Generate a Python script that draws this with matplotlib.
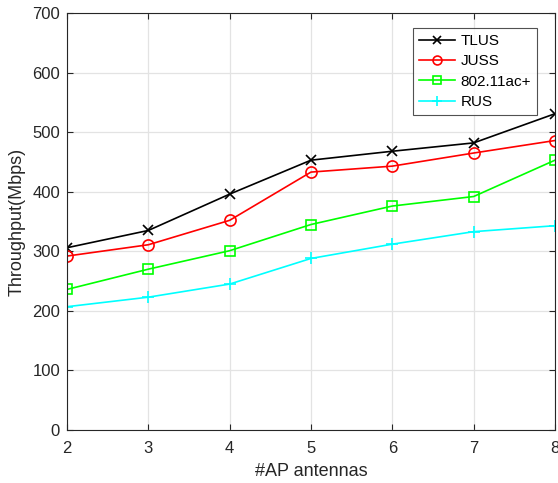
import matplotlib
matplotlib.use("Agg")
import matplotlib.pyplot as plt

plt.rcParams['font.family'] = ['Liberation Sans', 'DejaVu Sans']

antennas = [2, 3, 4, 5, 6, 7, 8]
tlus = [306, 335, 396, 453, 468, 482, 531]
juss = [292, 311, 352, 433, 443, 465, 486]
ac = [236, 270, 301, 345, 376, 392, 453]
rus = [207, 223, 245, 288, 312, 333, 343]
labels = ['TLUS', 'JUSS', '802.11ac+', 'RUS']

fig = plt.figure(figsize=(5.58, 4.83), dpi=100)
ax = fig.add_axes([0.120, 0.1097, 0.8746, 0.8633])

txt = '#262626'
ax.plot(antennas, tlus, color='black', marker='x', ms=7, mew=1.2, lw=1.2, label=labels[0])
ax.plot(antennas, juss, color='red', marker='o', ms=8, mfc='none', mew=1.2, lw=1.2, label=labels[1])
ax.plot(antennas, ac, color='#00ff00', marker='s', ms=7, mfc='none', mew=1.2, lw=1.2, label=labels[2])
ax.plot(antennas, rus, color='cyan', marker='+', ms=9, mew=1.2, lw=1.2, label=labels[3])

ax.set_xlim(2, 8)
ax.set_ylim(0, 700)
ax.set_xticks(antennas)
ax.set_yticks(range(0, 701, 100))
ax.grid(True, color='#e3e3e3', lw=0.9)
ax.set_axisbelow(True)
ax.tick_params(direction='in', top=True, right=True, labelsize=12, colors=txt, length=4)
ax.tick_params(axis='x', pad=8)
ax.tick_params(axis='y', pad=5)
for lab in ax.get_xticklabels() + ax.get_yticklabels():
    lab.set_color(txt)
for s in ax.spines.values():
    s.set_color(txt)
    s.set_linewidth(0.8)
ax.set_xlabel('#AP antennas', fontsize=13, color=txt, labelpad=5)
ax.set_ylabel('Throughput(Mbps)', fontsize=13, color=txt, labelpad=5)

leg = ax.legend(loc='upper right', bbox_to_anchor=(0.963, 0.964), fontsize=11,
                borderaxespad=0, frameon=True, fancybox=False, edgecolor='#262626',
                handlelength=2.35, borderpad=0.38, labelspacing=0.42, handletextpad=0.4,
                markerscale=0.8)
leg.get_frame().set_linewidth(0.8)
for t in leg.get_texts():
    t.set_color('black')

fig.savefig('out.png', dpi=100)
